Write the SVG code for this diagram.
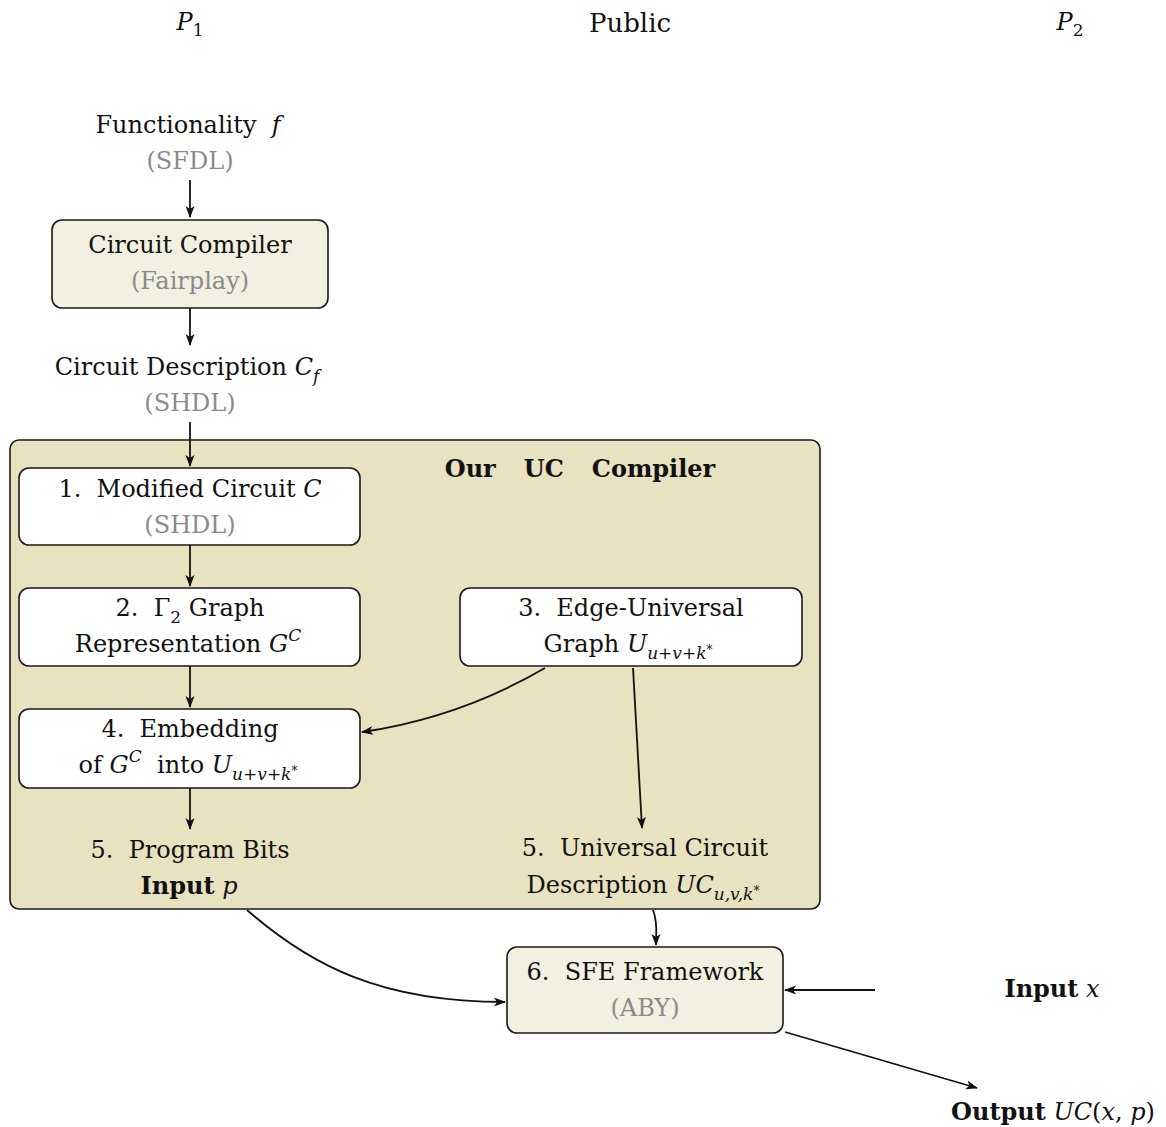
<svg xmlns="http://www.w3.org/2000/svg" width="1166" height="1127" viewBox="0 0 1166 1127">
<style>
text{font-family:"DejaVu Serif","Liberation Serif",serif;font-size:24px;fill:#111;text-anchor:middle}
.g{fill:#8a8a8a}
.i{font-style:italic}
.u{font-style:normal}
.b{font-weight:bold}
.s{font-size:17px}
.ss{font-size:12px}
.box{stroke:#1a1a1a;stroke-width:1.6}
.w{fill:#fff}
.lt{fill:#f2f0e0}
.big{fill:#e8e2c1}
.c{fill:none;stroke:#111;stroke-width:1.8}
</style>
<defs>
<marker id="ah" viewBox="0 0 12 10" refX="11" refY="5" markerWidth="12" markerHeight="10" markerUnits="userSpaceOnUse" orient="auto">
<path d="M0,0.5 L12,5 L0,9.5 L3,5 z" fill="#111"/>
</marker>
</defs>

<g id="headers">
<text x="190" y="30"><tspan class="i">P</tspan><tspan class="s" dy="6">1</tspan></text>
<text x="630" y="32" style="font-size:26px">Public</text>
<text x="1070" y="30"><tspan class="i">P</tspan><tspan class="s" dy="6">2</tspan></text>
</g>

<g id="functionality">
<text x="188" y="133">Functionality&#160; <tspan class="i">f</tspan></text>
<text x="190" y="169" class="g">(SFDL)</text>
</g>

<g id="circuit-compiler">
<rect class="box lt" x="52" y="220" width="276" height="88" rx="10"/>
<text x="190" y="253">Circuit Compiler</text>
<text x="190" y="289" class="g">(Fairplay)</text>
</g>

<g id="circuit-description">
<text x="187" y="375">Circuit Description <tspan class="i">C</tspan><tspan class="s i" dy="7">f</tspan></text>
<text x="190" y="411" class="g">(SHDL)</text>
</g>

<g id="uc-compiler">
<rect class="box big" x="10" y="440" width="810" height="469" rx="9"/>
<text x="580" y="477" class="b">Our<tspan dx="28">UC</tspan><tspan dx="28">Compiler</tspan></text>
</g>

<g id="node1">
<rect class="box w" x="19" y="468" width="341" height="77" rx="10"/>
<text x="190" y="497">1.&#160; Modified Circuit <tspan class="i">C</tspan></text>
<text x="190" y="533" class="g">(SHDL)</text>
</g>

<g id="node2">
<rect class="box w" x="19" y="588" width="341" height="78" rx="10"/>
<text x="190" y="616">2.&#160; Γ<tspan class="s" dy="7">2</tspan><tspan dy="-7"> Graph</tspan></text>
<text x="188" y="652">Representation <tspan class="i">G</tspan><tspan class="s i" dy="-11">C</tspan></text>
</g>

<g id="node3">
<rect class="box w" x="460" y="588" width="342" height="78" rx="10"/>
<text x="631" y="616">3.&#160; Edge-Universal</text>
<text x="628" y="652">Graph <tspan class="i">U</tspan><tspan class="s i" dy="7">u+v+k</tspan><tspan class="ss" dy="-5">*</tspan></text>
</g>

<g id="node4">
<rect class="box w" x="19" y="709" width="341" height="79" rx="10"/>
<text x="190" y="737">4.&#160; Embedding</text>
<text x="188" y="773">of <tspan class="i">G</tspan><tspan class="s i" dy="-11">C</tspan><tspan dy="11">&#160; into </tspan><tspan class="i">U</tspan><tspan class="s i" dy="7">u+v+k</tspan><tspan class="ss" dy="-5">*</tspan></text>
</g>

<g id="node5-program-bits">
<text x="190" y="858">5.&#160; Program Bits</text>
<text x="189" y="894"><tspan class="b">Input</tspan> <tspan class="i">p</tspan></text>
</g>

<g id="node5-universal-circuit">
<text x="645" y="856">5.&#160; Universal Circuit</text>
<text x="643" y="893">Description <tspan class="i">UC</tspan><tspan class="s i" dy="7">u,v,k</tspan><tspan class="ss" dy="-5">*</tspan></text>
</g>

<g id="node6">
<rect class="box lt" x="507" y="947" width="276" height="86" rx="10"/>
<text x="645" y="980">6.&#160; SFE Framework</text>
<text x="645" y="1016" class="g">(ABY)</text>
</g>

<g id="input-x">
<text x="1052" y="997"><tspan class="b">Input</tspan> <tspan class="i">x</tspan></text>
</g>

<g id="output">
<text x="1053" y="1120"><tspan class="b">Output</tspan> <tspan class="i">UC</tspan>(<tspan class="i">x</tspan>, <tspan class="i">p</tspan>)</text>
</g>

<g id="connectors">
<path class="c" d="M190,180 L190,217" marker-end="url(#ah)"/>
<path class="c" d="M190,308 L190,345" marker-end="url(#ah)"/>
<path class="c" d="M190,422 L190,466" marker-end="url(#ah)"/>
<path class="c" d="M190,545 L190,586" marker-end="url(#ah)"/>
<path class="c" d="M190,666 L190,707" marker-end="url(#ah)"/>
<path class="c" d="M190,788 L190,829" marker-end="url(#ah)"/>
<path class="c" d="M545,668 C490,700 430,722 362,732" marker-end="url(#ah)"/>
<path class="c" d="M633,668 L642,828" marker-end="url(#ah)"/>
<path class="c" d="M653,910 C658,922 656,934 656,945" marker-end="url(#ah)"/>
<path class="c" d="M247,910 C310,965 380,1002 505,1002" marker-end="url(#ah)"/>
<path class="c" d="M875,990 L785,990" marker-end="url(#ah)"/>
<path class="c" d="M785,1032 L977,1088" marker-end="url(#ah)"/>
</g>
</svg>
